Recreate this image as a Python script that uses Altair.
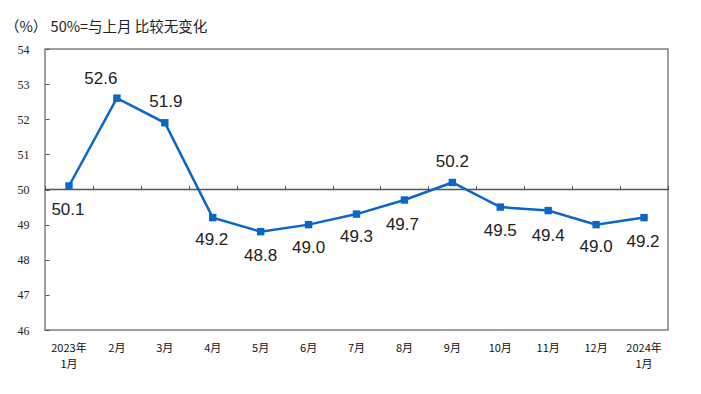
import altair as alt
import pandas as pd

months = ["2023年\n1月", "2月", "3月", "4月", "5月", "6月", "7月", "8月", "9月",
          "10月", "11月", "12月", "2024年\n1月"]
pmi = [50.1, 52.6, 51.9, 49.2, 48.8, 49.0, 49.3, 49.7, 50.2, 49.5, 49.4, 49.0, 49.2]
label_dx = [-1, -16, 1, -1, 0, 0, 0, -2, 0, 0, 0, 0, -1]
label_dy = [24, -19, -21, 22, 24, 23, 23, 25, -20, 24, 25, 22, 24]
y_ticks = [46, 47, 48, 49, 50, 51, 52, 53, 54]
baseline = [50]
title_text = "（%）   50%=与上月 比较无变化"

df = pd.DataFrame({"idx": list(range(len(months))), "month": months, "pmi": pmi})
df_base = pd.DataFrame({"base": baseline})

BLUE = "#0a66c8"
xscale = alt.Scale(domain=months, paddingInner=0, paddingOuter=0)
yscale = alt.Scale(domain=[46, 54], nice=False, zero=False)

y_axis = alt.Axis(values=y_ticks, tickSize=4, offset=-4, domain=False, grid=False,
                  tickColor="#555", labelPadding=16, labelFontSize=12,
                  labelFont="Liberation Sans Narrow", labelColor="#222")

x_bottom = alt.X("month:N", sort=months, scale=xscale, title=None,
                 axis=alt.Axis(orient="bottom", ticks=False, domain=False, labelAngle=0,
                               labelExpr="split(datum.label, '\\n')",
                               labelFont="Noto Sans CJK SC", labelFontSize=11,
                               labelColor="#111", labelPadding=12, labelLineHeight=16))
x_top = alt.X("month:N", sort=months, scale=xscale, title=None,
              axis=alt.Axis(orient="top", ticks=True, tickBand="extent", tickSize=4,
                            tickColor="#555", tickWidth=1, labels=False, domain=False,
                            offset=-140.5))

rule = alt.Chart(df_base).mark_rule(color="#555", strokeWidth=1.5).encode(
    y=alt.Y("base:Q", scale=yscale, title=None, axis=y_axis)
)

line = alt.Chart(df).mark_line(color=BLUE, strokeWidth=2.5).encode(
    x=x_bottom,
    y=alt.Y("pmi:Q", scale=yscale, title=None, axis=y_axis),
)

points = alt.Chart(df).mark_square(color=BLUE, size=55, opacity=1).encode(
    x=x_top,
    y=alt.Y("pmi:Q", scale=yscale, title=None, axis=y_axis),
)

texts = []
for i in range(len(months)):
    texts.append(
        alt.Chart(df).transform_filter(alt.datum.idx == i).mark_text(
            font="Liberation Sans", fontSize=17, color="#222",
            baseline="middle", align="center", dx=label_dx[i], dy=label_dy[i]
        ).encode(
            x=alt.X("month:N", sort=months, scale=xscale, title=None, axis=None),
            y=alt.Y("pmi:Q", scale=yscale, title=None, axis=y_axis),
            text=alt.Text("pmi:Q", format=".1f"),
        )
    )

chart = alt.layer(rule, line, points, *texts).resolve_axis(x="independent").properties(
    width=623, height=281,
    padding={"left": 37, "top": 41, "right": 10, "bottom": 60},
    autosize=alt.AutoSizeParams(type="none"),
    title=alt.TitleParams(text=title_text, anchor="start", frame="group", dx=-40,
                          offset=8, font="Noto Sans CJK SC", fontSize=14.5,
                          fontWeight="normal", color="#222"),
).configure_view(stroke="#808080", strokeWidth=1.5)

chart.save("out.html", embed_options={"renderer": "svg", "actions": False})
